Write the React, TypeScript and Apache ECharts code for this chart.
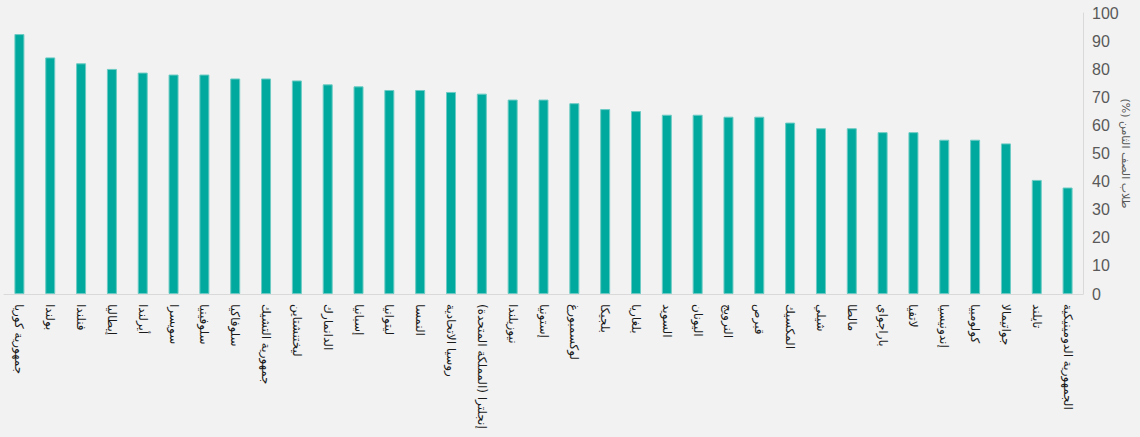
import React, { useEffect, useRef } from "react";
import * as echarts from "echarts";

const categories = [
  "جمهورية كوريا",
  "بولندا",
  "فنلندا",
  "إيطاليا",
  "أيرلندا",
  "سويسرا",
  "سلوفينيا",
  "سلوفاكيا",
  "جمهورية التشيك",
  "ليختنشتاين",
  "الدانمارك",
  "إسبانيا",
  "ليتوانيا",
  "النمسا",
  "روسيا الاتحادية",
  "إنجلترا (المملكة المتحدة)",
  "نيوزيلندا",
  "إستونيا",
  "لوكسمبورغ",
  "بلجيكا",
  "بلغاريا",
  "السويد",
  "اليونان",
  "النرويج",
  "قبرص",
  "المكسيك",
  "شيلي",
  "مالطا",
  "باراجواي",
  "لاتفيا",
  "إندونيسيا",
  "كولومبيا",
  "جواتيمالا",
  "تايلند",
  "الجمهورية الدومينيكية",
];

const values = [
  92.5, 84.2, 82.1, 80.1, 78.8, 78.1, 78.1, 76.7, 76.7, 76.0, 74.6, 73.9,
  72.6, 72.6, 71.9, 71.3, 69.2, 69.2, 67.9, 65.8, 65.1, 63.8, 63.8, 63.1,
  63.1, 61.0, 59.0, 59.0, 57.6, 57.6, 54.9, 54.9, 53.6, 40.6, 37.9,
];

const axisName = "طلاب الصف الثامن (%)";
const yMin = 0;
const yMax = 100;
const yInterval = 10;

export default function App() {
  const ref = useRef<HTMLDivElement>(null);

  useEffect(() => {
    document.body.style.margin = "0";
    if (!ref.current) return;
    const chart = echarts.init(ref.current, null, { renderer: "svg" });
    chart.setOption({
      animation: false,
      backgroundColor: "#f2f2f2",
      textStyle: { fontFamily: "Liberation Sans, DejaVu Sans, sans-serif" },
      grid: {
        left: 4,
        right: 57,
        top: 13,
        bottom: 143,
        containLabel: false,
        outerBoundsMode: "none",
      },
      xAxis: {
        type: "category",
        data: categories,
        axisLine: { show: true, lineStyle: { color: "#d9d9d9", width: 1 } },
        axisTick: { show: false },
        axisLabel: {
          rotate: -90,
          interval: 0,
          color: "#1a1a1a",
          fontSize: 12,
          margin: 10,
          fontFamily: "DejaVu Sans, sans-serif",
        },
      },
      yAxis: {
        type: "value",
        position: "right",
        min: yMin,
        max: yMax,
        interval: yInterval,
        axisLine: { show: true, lineStyle: { color: "#d9d9d9", width: 1 } },
        axisTick: { show: false },
        splitLine: { show: false },
        axisLabel: { color: "#595959", fontSize: 16, margin: 9 },
        name: axisName + "\u200F",
        nameLocation: "middle",
        nameRotate: -90,
        nameGap: 37,
        nameMoveOverlap: false,
        nameTextStyle: {
          color: "#595959",
          fontSize: 11,
          fontFamily: "DejaVu Sans, sans-serif",
        },
      },
      series: [
        {
          type: "bar",
          data: values,
          barWidth: 10,
          itemStyle: {
            color: "#00a99d",
            borderColor: "#6ccbc4",
            borderWidth: 1,
          },
        },
      ],
    });
    return () => chart.dispose();
  }, []);

  return (
    <div
      ref={ref}
      style={{ position: "absolute", left: 0, top: 0, width: 1140, height: 437 }}
    />
  );
}
